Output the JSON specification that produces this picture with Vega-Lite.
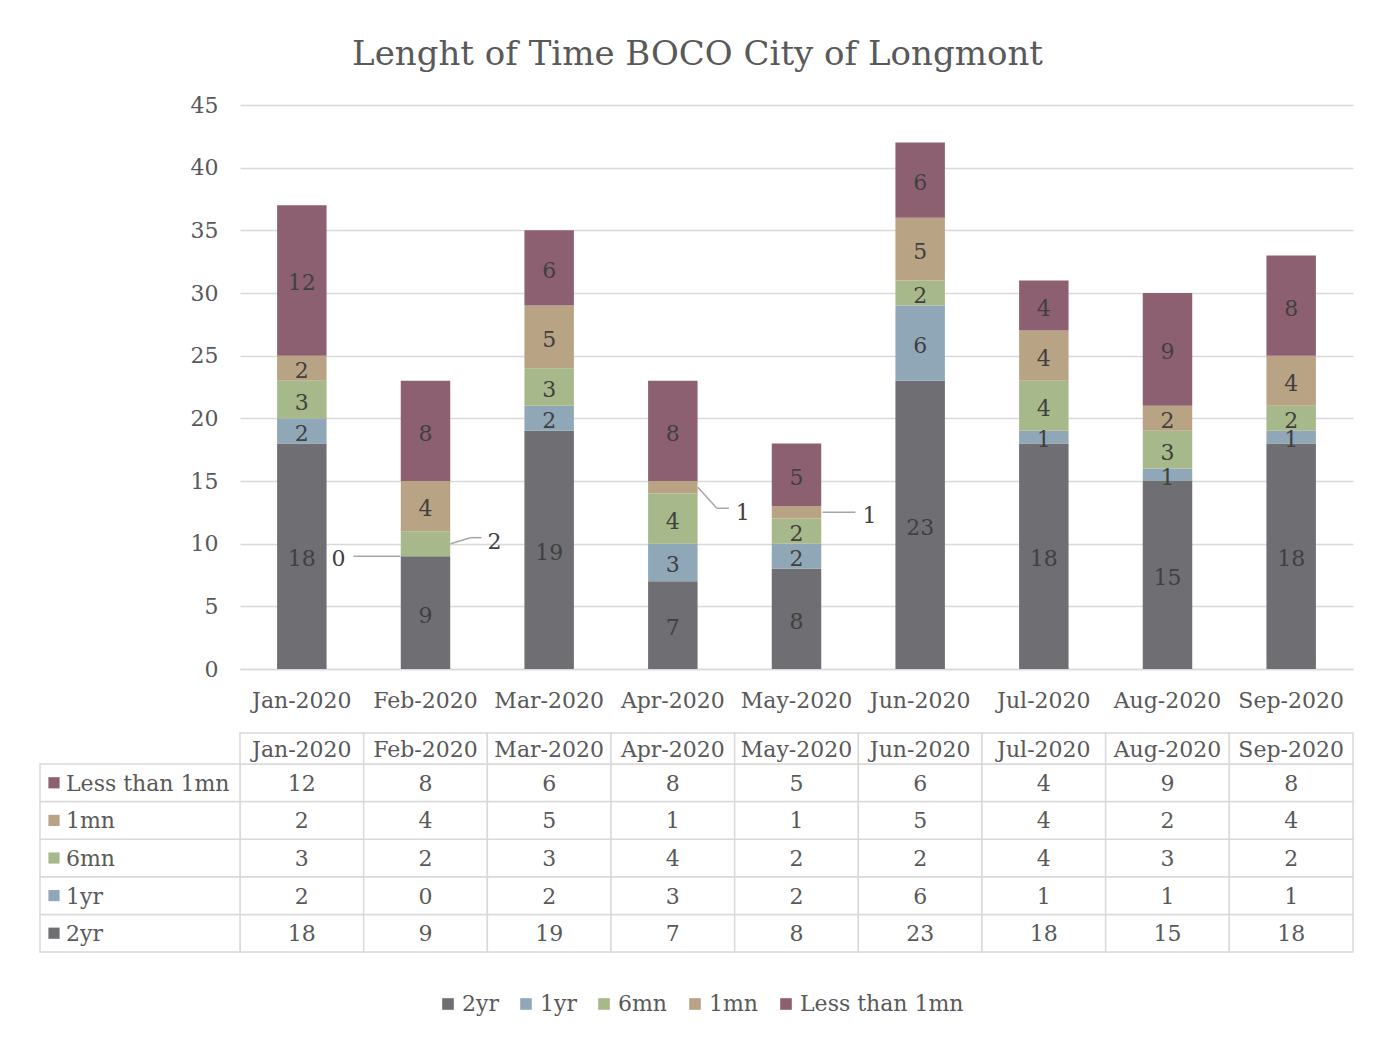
{
  "$schema": "https://vega.github.io/schema/vega-lite/v6.json",
  "width": 1113,
  "height": 564,
  "autosize": {"type": "none"},
  "padding": {"left": 240, "top": 105, "right": 36, "bottom": 369},
  "background": "white",
  "config": {"font": "DejaVu Serif", "view": {"stroke": null}},
  "title": {"text": "Lenght of Time BOCO City of Longmont", "fontSize": 34, "fontWeight": "normal", "color": "#595959", "anchor": "middle", "dx": -99, "offset": 22},
  "data": {"values": [
    {"month": "Jan-2020", "series": "2yr", "value": 18, "rank": 1},
    {"month": "Jan-2020", "series": "1yr", "value": 2, "rank": 2},
    {"month": "Jan-2020", "series": "6mn", "value": 3, "rank": 3},
    {"month": "Jan-2020", "series": "1mn", "value": 2, "rank": 4},
    {"month": "Jan-2020", "series": "Less than 1mn", "value": 12, "rank": 5},
    {"month": "Feb-2020", "series": "2yr", "value": 9, "rank": 1},
    {"month": "Feb-2020", "series": "1yr", "value": 0, "rank": 2},
    {"month": "Feb-2020", "series": "6mn", "value": 2, "rank": 3},
    {"month": "Feb-2020", "series": "1mn", "value": 4, "rank": 4},
    {"month": "Feb-2020", "series": "Less than 1mn", "value": 8, "rank": 5},
    {"month": "Mar-2020", "series": "2yr", "value": 19, "rank": 1},
    {"month": "Mar-2020", "series": "1yr", "value": 2, "rank": 2},
    {"month": "Mar-2020", "series": "6mn", "value": 3, "rank": 3},
    {"month": "Mar-2020", "series": "1mn", "value": 5, "rank": 4},
    {"month": "Mar-2020", "series": "Less than 1mn", "value": 6, "rank": 5},
    {"month": "Apr-2020", "series": "2yr", "value": 7, "rank": 1},
    {"month": "Apr-2020", "series": "1yr", "value": 3, "rank": 2},
    {"month": "Apr-2020", "series": "6mn", "value": 4, "rank": 3},
    {"month": "Apr-2020", "series": "1mn", "value": 1, "rank": 4},
    {"month": "Apr-2020", "series": "Less than 1mn", "value": 8, "rank": 5},
    {"month": "May-2020", "series": "2yr", "value": 8, "rank": 1},
    {"month": "May-2020", "series": "1yr", "value": 2, "rank": 2},
    {"month": "May-2020", "series": "6mn", "value": 2, "rank": 3},
    {"month": "May-2020", "series": "1mn", "value": 1, "rank": 4},
    {"month": "May-2020", "series": "Less than 1mn", "value": 5, "rank": 5},
    {"month": "Jun-2020", "series": "2yr", "value": 23, "rank": 1},
    {"month": "Jun-2020", "series": "1yr", "value": 6, "rank": 2},
    {"month": "Jun-2020", "series": "6mn", "value": 2, "rank": 3},
    {"month": "Jun-2020", "series": "1mn", "value": 5, "rank": 4},
    {"month": "Jun-2020", "series": "Less than 1mn", "value": 6, "rank": 5},
    {"month": "Jul-2020", "series": "2yr", "value": 18, "rank": 1},
    {"month": "Jul-2020", "series": "1yr", "value": 1, "rank": 2},
    {"month": "Jul-2020", "series": "6mn", "value": 4, "rank": 3},
    {"month": "Jul-2020", "series": "1mn", "value": 4, "rank": 4},
    {"month": "Jul-2020", "series": "Less than 1mn", "value": 4, "rank": 5},
    {"month": "Aug-2020", "series": "2yr", "value": 15, "rank": 1},
    {"month": "Aug-2020", "series": "1yr", "value": 1, "rank": 2},
    {"month": "Aug-2020", "series": "6mn", "value": 3, "rank": 3},
    {"month": "Aug-2020", "series": "1mn", "value": 2, "rank": 4},
    {"month": "Aug-2020", "series": "Less than 1mn", "value": 9, "rank": 5},
    {"month": "Sep-2020", "series": "2yr", "value": 18, "rank": 1},
    {"month": "Sep-2020", "series": "1yr", "value": 1, "rank": 2},
    {"month": "Sep-2020", "series": "6mn", "value": 2, "rank": 3},
    {"month": "Sep-2020", "series": "1mn", "value": 4, "rank": 4},
    {"month": "Sep-2020", "series": "Less than 1mn", "value": 8, "rank": 5}
  ]},
  "resolve": {"scale": {"x": "independent", "y": "independent"}},
  "layer": [
    {
      "transform": [
        {"stack": "value", "groupby": ["month"], "sort": [{"field": "rank", "order": "ascending"}], "as": ["v0", "v1"]},
        {"calculate": "(datum.v0 + datum.v1) / 2", "as": "mid"}
      ],
      "encoding": {
        "x": {"field": "month", "type": "nominal",
          "scale": {"domain": ["Jan-2020","Feb-2020","Mar-2020","Apr-2020","May-2020","Jun-2020","Jul-2020","Aug-2020","Sep-2020"], "paddingInner": 0.6, "paddingOuter": 0.3},
          "axis": {"title": null, "labelAngle": 0, "ticks": false, "labelPadding": 21, "labelFontSize": 22, "labelColor": "#595959", "domainColor": "#D9D9D9", "domainWidth": 1.5}}
      },
      "layer": [
        {
          "mark": {"type": "bar"},
          "encoding": {
            "y": {"field": "v1", "type": "quantitative", "scale": {"domain": [0, 45], "nice": false},
              "axis": {"title": null, "values": [0,5,10,15,20,25,30,35,40,45], "domain": false, "ticks": false, "labelPadding": 22, "labelFontSize": 22, "labelColor": "#595959", "gridColor": "#D9D9D9", "gridWidth": 1.5}},
            "y2": {"field": "v0"},
            "color": {"field": "series", "type": "nominal",
              "scale": {"domain": ["2yr", "1yr", "6mn", "1mn", "Less than 1mn"], "range": ["#6F6E73", "#90A7B8", "#A7B98A", "#B9A385", "#8D6071"]},
              "legend": {"orient": "none", "legendX": 197, "legendY": 888, "direction": "horizontal", "title": null, "symbolType": "square", "symbolSize": 135, "symbolStrokeWidth": 0, "labelFontSize": 22, "labelColor": "#595959", "labelLimit": 400, "columnPadding": 16, "labelOffset": 3, "padding": 0}}
          }
        },
        {
          "transform": [{"filter": "datum.value > 0 && !((datum.month == 'Feb-2020' && datum.series == '6mn') || (datum.month == 'Apr-2020' && datum.series == '1mn') || (datum.month == 'May-2020' && datum.series == '1mn'))"}],
          "mark": {"type": "text", "fontSize": 22, "color": "#404040", "baseline": "middle", "dy": 3},
          "encoding": {"y": {"field": "mid", "type": "quantitative"}, "text": {"field": "value", "type": "quantitative"}}
        },
        {
          "transform": [{"filter": "datum.month == 'Feb-2020' && datum.series == '1yr'"}],
          "mark": {"type": "text", "fontSize": 22, "color": "#404040", "baseline": "middle", "dx": -87, "dy": 3},
          "encoding": {"y": {"field": "mid", "type": "quantitative"}, "text": {"field": "value", "type": "quantitative"}}
        },
        {
          "transform": [{"filter": "datum.month == 'Feb-2020' && datum.series == '1yr'"}],
          "mark": {"type": "rule", "color": "#A6A6A6", "strokeWidth": 1.5, "xOffset": -72, "x2Offset": -25},
          "encoding": {"x2": {"field": "month"}, "y": {"field": "mid", "type": "quantitative"}, "y2": {"field": "mid"}}
        },
        {
          "transform": [{"filter": "datum.month == 'Feb-2020' && datum.series == '6mn'"}],
          "mark": {"type": "text", "fontSize": 22, "color": "#404040", "baseline": "middle", "dx": 69, "dy": -2},
          "encoding": {"y": {"field": "mid", "type": "quantitative"}, "text": {"field": "value", "type": "quantitative"}}
        },
        {
          "transform": [{"filter": "datum.month == 'Feb-2020' && datum.series == '6mn'"}],
          "mark": {"type": "rule", "color": "#A6A6A6", "strokeWidth": 1.5, "xOffset": 25, "x2Offset": 45, "yOffset": 0, "y2Offset": -6},
          "encoding": {"x2": {"field": "month"}, "y": {"field": "mid", "type": "quantitative"}, "y2": {"field": "mid"}}
        },
        {
          "transform": [{"filter": "datum.month == 'Feb-2020' && datum.series == '6mn'"}],
          "mark": {"type": "rule", "color": "#A6A6A6", "strokeWidth": 1.5, "xOffset": 45, "x2Offset": 56, "yOffset": -6, "y2Offset": -6},
          "encoding": {"x2": {"field": "month"}, "y": {"field": "mid", "type": "quantitative"}, "y2": {"field": "mid"}}
        },
        {
          "transform": [{"filter": "datum.month == 'Apr-2020' && datum.series == '1mn'"}],
          "mark": {"type": "text", "fontSize": 22, "color": "#404040", "baseline": "middle", "dx": 70, "dy": 26},
          "encoding": {"y": {"field": "mid", "type": "quantitative"}, "text": {"field": "value", "type": "quantitative"}}
        },
        {
          "transform": [{"filter": "datum.month == 'Apr-2020' && datum.series == '1mn'"}],
          "mark": {"type": "rule", "color": "#A6A6A6", "strokeWidth": 1.5, "xOffset": 25, "x2Offset": 44, "yOffset": 0, "y2Offset": 21},
          "encoding": {"x2": {"field": "month"}, "y": {"field": "mid", "type": "quantitative"}, "y2": {"field": "mid"}}
        },
        {
          "transform": [{"filter": "datum.month == 'Apr-2020' && datum.series == '1mn'"}],
          "mark": {"type": "rule", "color": "#A6A6A6", "strokeWidth": 1.5, "xOffset": 44, "x2Offset": 56, "yOffset": 21, "y2Offset": 21},
          "encoding": {"x2": {"field": "month"}, "y": {"field": "mid", "type": "quantitative"}, "y2": {"field": "mid"}}
        },
        {
          "transform": [{"filter": "datum.month == 'May-2020' && datum.series == '1mn'"}],
          "mark": {"type": "text", "fontSize": 22, "color": "#404040", "baseline": "middle", "dx": 73, "dy": 4},
          "encoding": {"y": {"field": "mid", "type": "quantitative"}, "text": {"field": "value", "type": "quantitative"}}
        },
        {
          "transform": [{"filter": "datum.month == 'May-2020' && datum.series == '1mn'"}],
          "mark": {"type": "rule", "color": "#A6A6A6", "strokeWidth": 1.5, "xOffset": 26, "x2Offset": 59},
          "encoding": {"x2": {"field": "month"}, "y": {"field": "mid", "type": "quantitative"}, "y2": {"field": "mid"}}
        }
      ]
    },
    {
      "encoding": {
        "x": {"field": "month", "type": "nominal",
          "scale": {"domain": ["Jan-2020","Feb-2020","Mar-2020","Apr-2020","May-2020","Jun-2020","Jul-2020","Aug-2020","Sep-2020"], "paddingInner": 0, "paddingOuter": 0}, "axis": null},
        "y": {"field": "series", "type": "nominal",
          "scale": {"domain": ["Less than 1mn", "1mn", "6mn", "1yr", "2yr"], "range": [659, 847], "paddingInner": 0, "paddingOuter": 0}, "axis": null}
      },
      "layer": [
        {"mark": {"type": "rect", "fill": "white", "stroke": "#D9D9D9", "strokeWidth": 1.5}},
        {"mark": {"type": "text", "fontSize": 22, "color": "#595959", "baseline": "middle", "dy": 1}, "encoding": {"text": {"field": "value", "type": "quantitative"}}}
      ]
    },
    {
      "transform": [{"filter": "datum.month == 'Jan-2020'"}],
      "encoding": {
        "y": {"field": "series", "type": "nominal",
          "scale": {"domain": ["Less than 1mn", "1mn", "6mn", "1yr", "2yr"], "range": [659, 847], "paddingInner": 0, "paddingOuter": 0}, "axis": null}
      },
      "layer": [
        {"mark": {"type": "rect", "fill": "white", "stroke": "#D9D9D9", "strokeWidth": 1.5},
          "encoding": {"x": {"datum": 0, "type": "quantitative", "scale": {"domain": [0, 200], "range": [-200, 0], "nice": false, "zero": false}, "axis": null}, "x2": {"datum": 200}}},
        {"mark": {"type": "point", "shape": "square", "filled": true, "size": 125, "opacity": 1},
          "encoding": {"x": {"datum": 14, "type": "quantitative"}, "color": {"field": "series", "type": "nominal"}}},
        {"mark": {"type": "text", "align": "left", "baseline": "middle", "fontSize": 22, "color": "#595959", "dy": 1},
          "encoding": {"x": {"datum": 26, "type": "quantitative"}, "text": {"field": "series", "type": "nominal"}}}
      ]
    },
    {
      "transform": [{"filter": "datum.series == '2yr'"}],
      "encoding": {
        "x": {"field": "month", "type": "nominal",
          "scale": {"domain": ["Jan-2020","Feb-2020","Mar-2020","Apr-2020","May-2020","Jun-2020","Jul-2020","Aug-2020","Sep-2020"], "paddingInner": 0, "paddingOuter": 0}, "axis": null}
      },
      "layer": [
        {"mark": {"type": "rect", "fill": "white", "stroke": "#D9D9D9", "strokeWidth": 1.5},
          "encoding": {"y": {"datum": 0, "type": "quantitative", "scale": {"domain": [0, 1], "range": [628, 659], "nice": false, "zero": false}, "axis": null}, "y2": {"datum": 1}}},
        {"mark": {"type": "text", "baseline": "middle", "fontSize": 22, "color": "#595959", "dy": 1},
          "encoding": {"y": {"datum": 0.5, "type": "quantitative"}, "text": {"field": "month", "type": "nominal"}}}
      ]
    }
  ]
}
